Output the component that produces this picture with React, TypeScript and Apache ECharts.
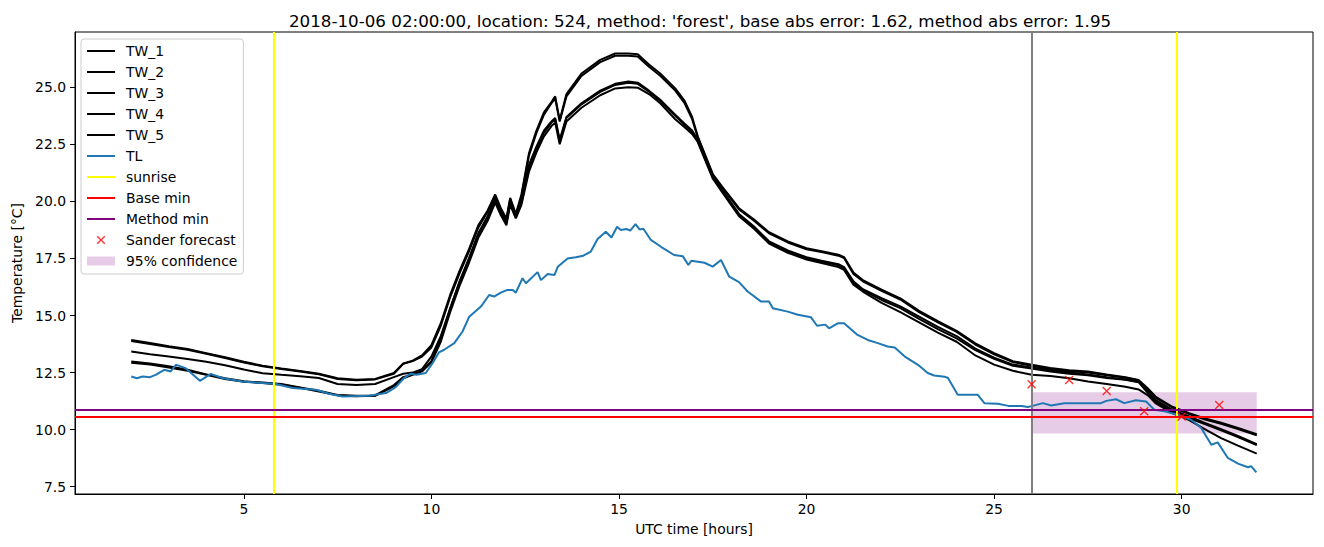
import React, { useEffect, useRef } from "react";
import * as echarts from "echarts";

const titleText =
  "2018-10-06 02:00:00, location: 524, method: 'forest', base abs error: 1.62, method abs error: 1.95";

const hours = [
  2, 2.5, 3, 3.5, 4, 4.5, 5, 5.5, 6, 6.5, 7, 7.5, 8, 8.5, 9,
  9.25, 9.5, 9.75, 10, 10.25, 10.5, 10.75, 11, 11.25, 11.5,
  11.7, 11.85, 12, 12.1, 12.25, 12.4, 12.6, 12.8, 13, 13.2, 13.3, 13.42, 13.6,
  14, 14.5, 14.9, 15.25, 15.5, 15.8, 16.1, 16.5, 16.75, 16.95, 17.1, 17.5, 17.75,
  18.2, 18.6, 19, 19.5, 20, 20.4, 20.85, 21, 21.25, 21.5,
  22, 22.5, 23, 23.5, 24, 24.5, 25, 25.5, 26, 26.5, 27, 27.5, 28, 28.5,
  28.85, 29.1, 29.3, 29.75, 30.2, 30.6, 31.05, 31.5, 32,
];

const tw1 = [
  13.93, 13.8, 13.65, 13.53, 13.35, 13.17, 12.97, 12.8, 12.68, 12.57, 12.45, 12.25, 12.18, 12.22, 12.48,
  12.9, 13.02, 13.25, 13.7, 14.66, 15.9, 16.95, 17.9, 18.95, 19.6,
  20.3, 19.7, 19.25, 20.15, 19.45, 20.3, 22.1, 23.1, 23.9, 24.35, 24.6, 23.55, 24.7,
  25.6, 26.2, 26.48, 26.48, 26.45, 26.0, 25.6, 24.95, 24.4, 23.7, 22.85, 21.2, 20.65,
  19.7, 19.2, 18.65, 18.25, 17.95, 17.82, 17.66, 17.56, 16.88, 16.55,
  16.13, 15.75, 15.2, 14.75, 14.33, 13.78, 13.35, 13.0, 12.84, 12.7, 12.6, 12.55, 12.42, 12.3,
  12.18, 11.8, 11.45, 11.0, 10.72, 10.5, 10.3, 10.07, 9.8,
];

const tw2 = [
  13.88, 13.75, 13.62, 13.5, 13.32, 13.14, 12.94, 12.78, 12.66, 12.55, 12.43, 12.22, 12.16, 12.2, 12.45,
  12.88, 13.0, 13.2, 13.6, 14.55, 15.8, 16.85, 17.8, 18.85, 19.55,
  20.25, 19.65, 19.2, 20.1, 19.4, 20.2, 22.0, 23.0, 23.8, 24.3, 24.5, 23.5, 24.6,
  25.5, 26.1, 26.38, 26.38, 26.35, 25.9, 25.5, 24.85, 24.3, 23.6, 22.8, 21.15, 20.6,
  19.65, 19.15, 18.6, 18.2, 17.9, 17.78, 17.62, 17.52, 16.82, 16.5,
  16.08, 15.7, 15.15, 14.7, 14.28, 13.73, 13.3, 12.96, 12.8, 12.66, 12.56, 12.5, 12.38, 12.27,
  12.15, 11.75, 11.4, 10.97, 10.68, 10.45, 10.26, 10.03, 9.75,
];

const tw3 = [
  13.42, 13.3, 13.2, 13.09, 12.97, 12.82, 12.63, 12.47, 12.4, 12.34, 12.26, 12.0, 11.96, 12.0, 12.3,
  12.45, 12.5, 12.65, 13.2, 14.1, 15.3, 16.5, 17.5, 18.6, 19.35,
  20.15, 19.55, 19.1, 20.0, 19.35, 20.0, 21.6, 22.4, 23.1, 23.5, 23.65, 22.7, 23.7,
  24.3, 24.85, 25.15, 25.25, 25.2, 24.85, 24.45, 23.8, 23.4, 23.1, 22.7, 21.1, 20.5,
  19.45, 18.9, 18.25, 17.85, 17.55, 17.4, 17.25, 17.12, 16.5, 16.15,
  15.76, 15.4, 14.95, 14.5, 14.1, 13.55, 13.15, 12.85, 12.72, 12.6, 12.5, 12.42, 12.3, 12.2,
  12.1, 11.7, 11.3, 10.87, 10.58, 10.3, 10.02, 9.72, 9.36,
];

const tw4 = [
  12.98, 12.9, 12.78, 12.62, 12.42, 12.25, 12.12, 12.06, 12.0, 11.85, 11.7, 11.52, 11.48, 11.5, 11.95,
  12.3, 12.42, 12.58, 13.0, 14.0, 15.3, 16.45, 17.45, 18.55, 19.3,
  20.05, 19.5, 19.05, 19.95, 19.3, 19.95, 21.5, 22.3, 23.0, 23.45, 23.6, 22.6, 23.65,
  24.25, 24.8, 25.1, 25.2, 25.15, 24.8, 24.4, 23.75, 23.35, 23.05, 22.65, 21.05, 20.45,
  19.4, 18.85, 18.2, 17.8, 17.5, 17.36, 17.2, 17.07, 16.42, 16.1,
  15.68, 15.32, 14.85, 14.4, 14.0, 13.48, 13.1, 12.8, 12.68, 12.55, 12.45, 12.38, 12.26, 12.18,
  12.08, 11.6, 11.23, 10.8, 10.5, 10.25, 9.97, 9.67, 9.32,
];

const tw5 = [
  12.93, 12.85, 12.72, 12.58, 12.4, 12.22, 12.1, 12.04, 11.97, 11.83, 11.67, 11.5, 11.46, 11.48, 11.9,
  12.25, 12.4, 12.55, 12.95, 13.85, 15.15, 16.3, 17.3, 18.4, 19.15,
  19.95, 19.4, 18.95, 19.85, 19.25, 19.85, 21.3, 22.15, 22.85, 23.3, 23.45, 22.5, 23.5,
  24.1, 24.65, 24.95, 25.0, 24.98, 24.7, 24.3, 23.6, 23.25, 22.95, 22.6, 21.0, 20.4,
  19.35, 18.8, 18.15, 17.75, 17.45, 17.3, 17.12, 17.0, 16.35, 16.05,
  15.55, 15.15, 14.7, 14.25, 13.85, 13.25, 12.85, 12.58, 12.4, 12.35, 12.25, 12.11, 12.0, 11.88,
  11.76, 11.5, 11.16, 10.72, 10.42, 10.03, 9.63, 9.3, 8.95,
];

const tlHours = [
  2.0, 2.15, 2.3, 2.5, 2.65, 2.88, 3.05, 3.19, 3.3, 3.45, 3.83, 4.12, 4.43, 4.96, 5.5, 5.85,
  6.3, 6.92, 7.27, 7.63, 8.34, 8.79, 9.05, 9.27, 9.45, 9.6, 9.85, 10.03, 10.2, 10.34, 10.61,
  10.83, 11.01, 11.32, 11.54, 11.67, 11.85, 12.03, 12.17, 12.25, 12.43, 12.52, 12.83, 12.92,
  13.1, 13.28, 13.37, 13.63, 13.85, 14.05, 14.25, 14.43, 14.65, 14.8, 14.95, 15.05, 15.2, 15.3,
  15.44, 15.55, 15.65, 15.85, 16.12, 16.47, 16.7, 16.85, 16.93, 17.28, 17.5, 17.72, 17.94, 18.2,
  18.43, 18.79, 19.0, 19.1, 19.5, 19.77, 20.12, 20.28, 20.5, 20.6, 20.83, 21.0, 21.36, 21.63,
  21.9, 22.16, 22.35, 22.62, 22.97, 23.23, 23.4, 23.68, 23.77, 24.03, 24.56, 24.74, 25.1, 25.38,
  25.73, 25.9, 26.03, 26.3, 26.52, 26.87, 27.85, 27.99, 28.25, 28.47, 28.78, 29.05, 29.27, 29.54,
  29.9, 30.25, 30.52, 30.79, 30.96, 31.23, 31.5, 31.77, 31.85, 31.99,
];

const tlValues = [
  12.33, 12.25, 12.33, 12.3, 12.4, 12.62, 12.55, 12.84, 12.78, 12.69, 12.14, 12.44, 12.26, 12.11, 12.04, 12.0,
  11.82, 11.75, 11.57, 11.45, 11.48, 11.6, 11.86, 12.26, 12.45, 12.4, 12.48, 12.91, 13.38, 13.5, 13.79,
  14.3, 14.95, 15.39, 15.9, 15.83, 16.0, 16.12, 16.12, 16.0, 16.63, 16.41, 16.9, 16.55,
  16.82, 16.77, 17.14, 17.5, 17.55, 17.62, 17.8, 18.35, 18.67, 18.42, 18.89, 18.75, 18.79, 18.72,
  19.0, 18.77, 18.8, 18.31, 18.01, 17.65, 17.6, 17.21, 17.4, 17.31, 17.14, 17.43, 16.7, 16.46,
  16.05, 15.61, 15.61, 15.32, 15.17, 15.03, 14.92, 14.55, 14.6, 14.44, 14.66, 14.66, 14.15, 13.93,
  13.79, 13.64, 13.6, 13.2, 12.84, 12.48, 12.37, 12.32, 12.26, 11.53, 11.53, 11.16, 11.13, 11.04,
  11.04, 10.99, 11.04, 11.16, 11.06, 11.16, 11.16, 11.26, 11.33, 11.16, 11.29, 11.23, 10.87, 10.8,
  10.65, 10.43, 10.07, 9.34, 9.44, 8.76, 8.51, 8.35, 8.4, 8.13,
];

const sanderHours = [26, 27, 28, 29, 30, 31];
const sanderValues = [11.99, 12.17, 11.69, 10.8, 10.58, 11.08];

const sunriseHours = [5.8, 29.88];
const nowHour = 26;
const baseMin = 10.58;
const methodMin = 10.87;
const confStart = 26;
const confEnd = 32;
const confLow = 9.83;
const confHigh = 11.64;

const xTicks = [5, 10, 15, 20, 25, 30];
const yTicks = [7.5, 10, 12.5, 15, 17.5, 20, 22.5, 25];

const FONT = "DejaVu Sans";
const LINE_ICON = "path://M0,0M28,12M0,6L28,6";

function lineLegend(name: string, color: string) {
  return {
    name,
    icon: LINE_ICON,
    itemStyle: { color: "transparent", borderColor: color, borderWidth: 2, opacity: 1 },
  };
}

export default function App() {
  const ref = useRef<HTMLDivElement>(null);

  useEffect(() => {
    if (!ref.current) return;
    const chart = echarts.init(ref.current, null, { renderer: "svg" });

    const twNames = ["TW_1", "TW_2", "TW_3", "TW_4", "TW_5"];
    const twData = [tw1, tw2, tw3, tw4, tw5];

    const twSeries = twNames.map((name, k) => ({
      type: "line",
      name,
      data: hours.map((h, i) => [h, twData[k][i]]),
      symbol: "none",
      lineStyle: { color: "#000000", width: 2 },
      itemStyle: { color: "#000000" },
      z: 2,
    }));

    const option: any = {
      animation: false,
      textStyle: { fontFamily: FONT },
      title: {
        text: titleText,
        left: 284,
        top: 7,
        textStyle: { fontFamily: FONT, fontSize: 16.7, fontWeight: "normal", color: "#000" },
      },
      grid: {
        left: 75,
        right: 11,
        top: 32,
        bottom: 53,
        show: true,
        borderColor: "#000",
        borderWidth: 1,
        backgroundColor: "transparent",
      },
      legend: {
        orient: "vertical",
        left: 81,
        top: 39,
        itemWidth: 28,
        itemHeight: 12,
        itemGap: 7,
        padding: [5, 6, 6, 5],
        backgroundColor: "rgba(255,255,255,0.8)",
        borderColor: "#cccccc",
        borderWidth: 1,
        borderRadius: 3,
        selectedMode: false,
        textStyle: { fontFamily: FONT, fontSize: 13.9, color: "#000", padding: [0, 0, 0, 6] },
        data: [
          ...twNames.map((n) => lineLegend(n, "#000000")),
          lineLegend("TL", "#1f77b4"),
          lineLegend("sunrise", "#ffff00"),
          lineLegend("Base min", "#ff0000"),
          lineLegend("Method min", "#800080"),
          {
            name: "Sander forecast",
            icon: "path://M0,0M28,12M10.2,2.2L17.8,9.8M17.8,2.2L10.2,9.8",
            itemStyle: { color: "transparent", borderColor: "#ff0000", borderWidth: 1.4 },
          },
          {
            name: "95% confidence",
            icon: "path://M0,0M28,12M0,1.5L28,1.5L28,10.5L0,10.5Z",
            itemStyle: { color: "rgba(128,0,128,0.2)", borderWidth: 0 },
          },
        ],
      },
      xAxis: {
        type: "value",
        min: 0.5,
        max: 33.5,
        name: "UTC time [hours]",
        nameLocation: "middle",
        nameGap: 28,
        nameTextStyle: { fontFamily: FONT, fontSize: 13.9, color: "#000" },
        axisLine: { show: true, lineStyle: { color: "#000", width: 1 } },
        axisTick: { show: true, length: 5, customValues: xTicks, lineStyle: { color: "#000" } },
        axisLabel: {
          customValues: xTicks,
          margin: 8,
          fontFamily: FONT,
          fontSize: 13.9,
          color: "#000",
        },
        splitLine: { show: false },
      },
      yAxis: {
        type: "value",
        min: 7.18,
        max: 27.42,
        name: "Temperature [°C]",
        nameLocation: "middle",
        nameGap: 50,
        nameTextStyle: { fontFamily: FONT, fontSize: 13.9, color: "#000" },
        axisLine: { show: true, lineStyle: { color: "#000", width: 1 } },
        axisTick: { show: true, length: 5, customValues: yTicks, lineStyle: { color: "#000" } },
        axisLabel: {
          customValues: yTicks,
          margin: 9,
          fontFamily: FONT,
          fontSize: 13.9,
          color: "#000",
          formatter: (v: number) => v.toFixed(1),
        },
        splitLine: { show: false },
      },
      series: [
        ...twSeries,
        {
          type: "line",
          name: "TL",
          data: tlHours.map((h, i) => [h, tlValues[i]]),
          symbol: "none",
          lineStyle: { color: "#1f77b4", width: 2 },
          itemStyle: { color: "#1f77b4" },
          z: 3,
        },
        {
          type: "line",
          name: "sunrise",
          data: [],
          symbol: "none",
          lineStyle: { color: "#ffff00", width: 2 },
          itemStyle: { color: "#ffff00" },
          markLine: {
            silent: true,
            symbol: ["none", "none"],
            label: { show: false },
            lineStyle: { color: "#ffff00", width: 2, type: "solid" },
            data: sunriseHours.map((h) => ({ xAxis: h })),
          },
          z: 4,
        },
        {
          type: "line",
          name: "now",
          data: [],
          symbol: "none",
          lineStyle: { color: "#808080", width: 2 },
          itemStyle: { color: "#808080" },
          markLine: {
            silent: true,
            symbol: ["none", "none"],
            label: { show: false },
            lineStyle: { color: "#808080", width: 2, type: "solid" },
            data: [{ xAxis: nowHour }],
          },
          z: 4,
        },
        {
          type: "line",
          name: "Base min",
          data: [],
          symbol: "none",
          lineStyle: { color: "#ff0000", width: 2 },
          itemStyle: { color: "#ff0000" },
          markLine: {
            silent: true,
            symbol: ["none", "none"],
            label: { show: false },
            lineStyle: { color: "#ff0000", width: 2, type: "solid" },
            data: [{ yAxis: baseMin }],
          },
          z: 4,
        },
        {
          type: "line",
          name: "Method min",
          data: [],
          symbol: "none",
          lineStyle: { color: "#800080", width: 2 },
          itemStyle: { color: "#800080" },
          markLine: {
            silent: true,
            symbol: ["none", "none"],
            label: { show: false },
            lineStyle: { color: "#800080", width: 2, type: "solid" },
            data: [{ yAxis: methodMin }],
          },
          z: 4,
        },
        {
          type: "scatter",
          name: "Sander forecast",
          data: sanderHours.map((h, i) => [h, sanderValues[i]]),
          symbol: "path://M0,0L8,8M8,0L0,8",
          symbolSize: 8,
          itemStyle: { color: "transparent", borderColor: "#ff0000", borderWidth: 1.4 },
          z: 5,
        },
        {
          type: "line",
          name: "95% confidence",
          data: [],
          symbol: "none",
          lineStyle: { color: "rgba(128,0,128,0.2)", width: 0 },
          itemStyle: { color: "rgba(128,0,128,0.2)" },
          markArea: {
            silent: true,
            itemStyle: { color: "rgba(128,0,128,0.2)" },
            data: [[{ xAxis: confStart, yAxis: confHigh }, { xAxis: confEnd, yAxis: confLow }]],
          },
          z: 6,
        },
      ],
    };

    chart.setOption(option);
    return () => chart.dispose();
  }, []);

  return (
    <div
      ref={ref}
      style={{ position: "fixed", left: 0, top: 0, width: 1324, height: 547, background: "#fff" }}
    />
  );
}
